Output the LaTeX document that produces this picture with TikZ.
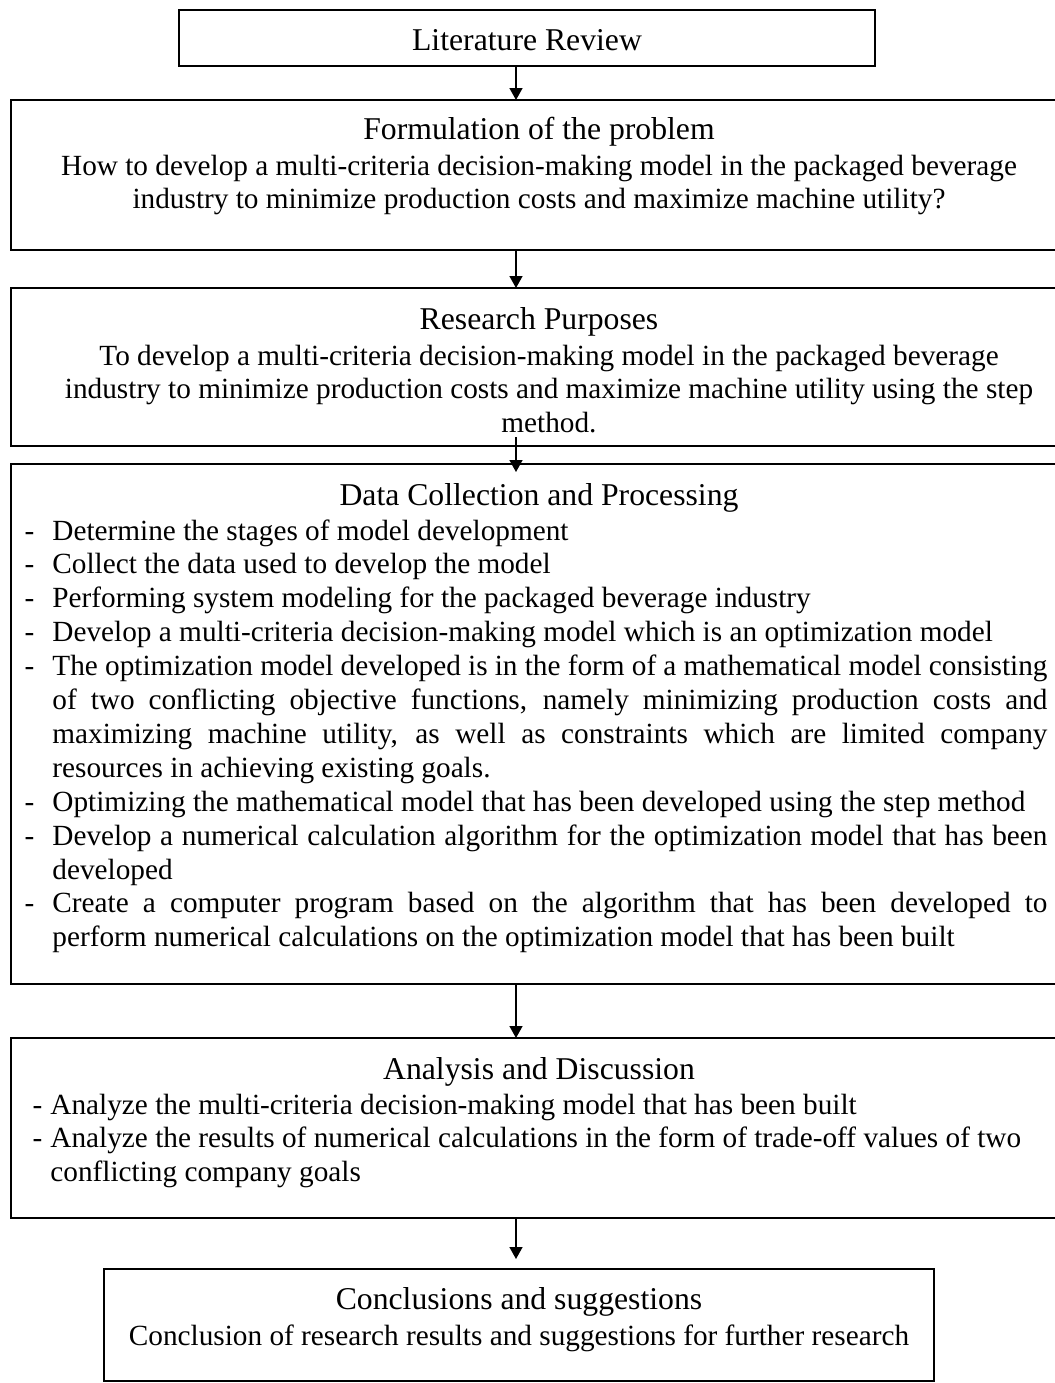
\documentclass[tikz,border=0pt]{standalone}
\usepackage{fontspec}
\setmainfont{Liberation Serif}
\usetikzlibrary{arrows.meta,positioning,calc}
\newlength{\px}
\setlength{\px}{0.41pt}
\newcommand{\itemdash}[1]{\leavevmode\llap{-\hspace{#1}}}
\newcommand{\fillline}[1]{\leavevmode\hbox to 995\px{#1}}
\tikzset{
  stagebox/.style={draw=black,line width=0.82pt,inner sep=0pt,outer sep=0pt,minimum width=433pt},
  endbox/.style={draw=black,line width=0.82pt,inner sep=0pt,outer sep=0pt},
  titletext/.style={anchor=base,inner sep=0pt,font=\fontsize{13pt}{15pt}\selectfont},
  bodytext/.style={anchor=base,inner sep=0pt,font=\fontsize{12pt}{13.9pt}\selectfont},
  listtext/.style={bodytext,anchor=base west,align=left,
    execute at begin node={\spaceskip=0pt\xspaceskip=0pt\relax}},
  midtext/.style={bodytext,align=center,
    execute at begin node={\spaceskip=3pt\xspaceskip=3pt\relax}},
  line/.style={-{Triangle[length=4.9pt,width=5.3pt]},line width=0.66pt,color=black}
}

\begin{document}
\begin{tikzpicture}[x=0.41pt,y=-0.41pt]
  \useasboundingbox (0,0) rectangle (1055,1383);
  \coordinate (arrowAxis) at (516,0);

  \node[endbox,minimum width=696\px,minimum height=56\px] (litBox) at (527,38) {};
  \node[stagebox,minimum height=150\px,below=34\px of litBox,xshift=12\px] (formBox) {};
  \node[stagebox,minimum height=158\px,below=38\px of formBox] (purposeBox) {};
  \node[stagebox,minimum height=520\px,below=18\px of purposeBox] (dataBox) {};
  \node[stagebox,minimum height=180\px,below=54\px of dataBox] (analysisBox) {};
  \node[endbox,minimum width=830\px,minimum height=112\px,below=51\px of analysisBox,xshift=-20\px] (conclBox) {};

  \node[titletext] (litTitle) at ($(litBox.north)+(0,40)$) {Literature Review};

  \node[titletext] (formTitle) at ($(formBox.north)+(0,39)$) {Formulation of the problem};
  \node[midtext,text width=1000\px] (formText) at ($(formBox.north)+(0,75)$)
    {How to develop a multi-criteria decision-making model in the packaged beverage\\
     industry to minimize production costs and maximize machine utility?};

  \node[titletext] (purposeTitle) at ($(purposeBox.north)+(0,41)$) {Research Purposes};
  \node[midtext,text width=1000\px] (purposeText) at ($(purposeBox.north)+(10,77)$)
    {To develop a multi-criteria decision-making model in the packaged beverage\\
     industry to minimize production costs and maximize machine utility using the step\\
     method.};

  \node[titletext] (dataTitle) at ($(dataBox.north)+(0,41)$) {Data Collection and Processing};
  \node[listtext,text width=995\px] (dataText) at ($(dataBox.north west)+(41,76)$)
    {\itemdash{18\px}Determine the stages of model development\\
     \itemdash{18\px}Collect the data used to develop the model\\
     \itemdash{18\px}Performing system modeling for the packaged beverage industry\\
     \itemdash{18\px}Develop a multi-criteria decision-making model which is an optimization model\\
     \itemdash{18\px}\fillline{The optimization model developed is in the form of a mathematical model consisting}\\
     \fillline{of two conflicting objective functions, namely minimizing production costs and}\\
     \fillline{maximizing machine utility, as well as constraints which are limited company}\\
     resources in achieving existing goals.\\
     \itemdash{18\px}Optimizing the mathematical model that has been developed using the step method\\
     \itemdash{18\px}\fillline{Develop a numerical calculation algorithm for the optimization model that has been}\\
     developed\\
     \itemdash{18\px}\fillline{Create a computer program based on the algorithm that has been developed to}\\
     perform numerical calculations on the optimization model that has been built};

  \node[titletext] (analysisTitle) at ($(analysisBox.north)+(0,41)$) {Analysis and Discussion};
  \node[listtext,text width=990\px] (analysisText) at ($(analysisBox.north west)+(39,76)$)
    {\itemdash{8\px}Analyze the multi-criteria decision-making model that has been built\\
     \itemdash{8\px}Analyze the results of numerical calculations in the form of trade-off values of two\\
     conflicting company goals};

  \node[titletext] (conclTitle) at ($(conclBox.north)+(0,40)$) {Conclusions and suggestions};
  \node[midtext,text width=800\px] (conclText) at ($(conclBox.north)+(0,76)$)
    {Conclusion of research results and suggestions for further research};

  \draw[line] (litBox.south -| arrowAxis) -- (formBox.north -| arrowAxis);
  \draw[line] (formBox.south -| arrowAxis) -- (purposeBox.north -| arrowAxis);
  \draw[line] ($(purposeBox.south -| arrowAxis)+(0,-9)$) -- ($(dataBox.north -| arrowAxis)+(0,8)$);
  \draw[line] (dataBox.south -| arrowAxis) -- (analysisBox.north -| arrowAxis);
  \draw[line] (analysisBox.south -| arrowAxis) -- ($(conclBox.north -| arrowAxis)+(0,-10)$);
\end{tikzpicture}
\end{document}
